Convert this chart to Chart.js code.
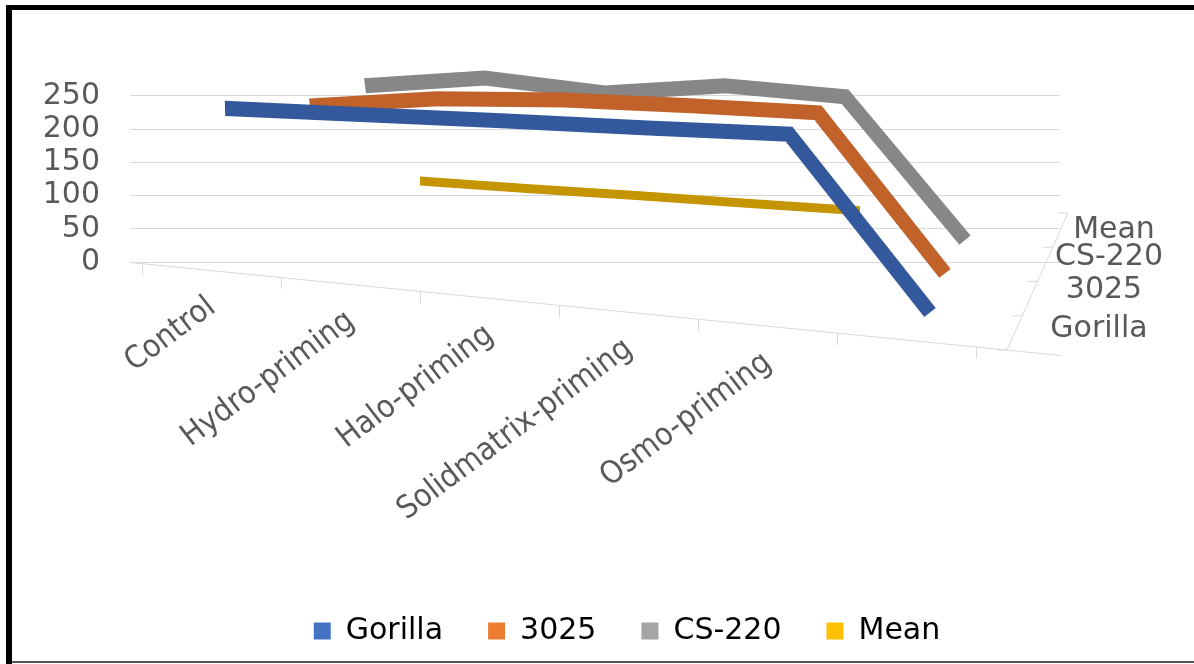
<!DOCTYPE html>
<html>
<head>
<meta charset="utf-8">
<title>Priming treatments</title>
<script src="https://cdn.jsdelivr.net/npm/chart.js@4.4.1/dist/chart.umd.min.js"></script>
<style>
    html, body { margin: 0; padding: 0; background: #fff; overflow: hidden; }
    #wrap { position: relative; width: 1194px; height: 664px; }
    #chart { position: absolute; left: 0; top: 0; }
    .edge { position: absolute; background: #000; }
</style>
</head>
<body>
<div id="wrap">
    <canvas id="chart" width="1194" height="664"></canvas>
    <div class="edge" style="left:6px; top:5px; right:0; height:5px;"></div>
    <div class="edge" style="left:6px; top:5px; width:6px; bottom:0;"></div>
    <div class="edge" style="left:12px; top:661px; right:0; height:2px; background:#555;"></div>
</div>
<script>
    const categories = ['Control', 'Hydro-priming', 'Halo-priming', 'Solidmatrix-priming', 'Osmo-priming', ''];
    const seriesNames = ['Gorilla', '3025', 'CS-220', 'Mean'];
    const gorilla = [224, 229, 234, 238, 243, 9];
    const v3025 = [201, 226, 238, 243, 246, 9];
    const cs220 = [196, 223, 212, 238, 234, 9];
    const mean = [13, 13, 14, 14, 15, null];
    const yTicks = [0, 50, 100, 150, 200, 250];

    const legendColors = ['#4472C4', '#ED7D31', '#A5A5A5', '#FFC000'];
    const ribbonColors = ['#33599C', '#C1622A', '#878787', '#C49500'];
    const textColor = '#595959';
    const textFont = { family: 'DejaVu Sans', size: 30 };

    // fake 3D: each depth row gets its own hidden x/y scale
    const area = { left: 130, right: 1060, top: 20, bottom: 262 };
    const rows = [
        { floor: 263, perUnit: 0.72, start: 225, step: 141, width: 15, labelShift: -2 },
        { floor: 222, perUnit: 0.64, start: 310, step: 127, width: 15, labelShift: 0 },
        { floor: 187, perUnit: 0.60, start: 365, step: 120, width: 15, labelShift: 2 },
        { floor: 168, perUnit: 0.56, start: 420, step: 110, width: 9, labelShift: -7 }
    ];
    const dataSlope = 0.07;
    const floorSlope = 0.1;

    function xRange(start, step) {
        const min = (area.left - start) / step;
        return { min: min, max: min + (area.right - area.left) / step };
    }

    function yRange(floor, perUnit) {
        const min = (floor - area.bottom) / perUnit;
        return { min: min, max: min + (area.bottom - area.top) / perUnit };
    }

    function drawDepthAxis(chart) {
        const ctx = chart.ctx;
        const left = chart.chartArea.left;
        ctx.save();
        ctx.strokeStyle = '#d9d9d9';
        ctx.lineWidth = 1;
        ctx.beginPath();
        ctx.moveTo(1007, 350);
        ctx.lineTo(1068, 213);
        for (let i = 0; i <= seriesNames.length; i++) {
            const f = i / seriesNames.length;
            const x = 1007 + 61 * f;
            const y = 350 - 137 * f;
            ctx.moveTo(x, y);
            ctx.lineTo(x - 10, y);
        }
        ctx.stroke();
        ctx.font = '30px "DejaVu Sans"';
        ctx.fillStyle = textColor;
        ctx.textAlign = 'center';
        ctx.textBaseline = 'middle';
        seriesNames.forEach((name, i) => {
            const x = 1099 + 5 * i;
            const y = chart.scales['y' + i].getPixelForValue(0) + dataSlope * (x - left) + rows[i].labelShift;
            ctx.fillText(name, x, y);
        });
        ctx.restore();
    }

    const skewPlugin = {
        id: 'skew',
        beforeDatasetsDraw(chart) {
            const ctx = chart.ctx;
            ctx.save();
            ctx.transform(1, dataSlope, 0, 1, 0, -dataSlope * chart.chartArea.left);
        },
        afterDatasetsDraw(chart) {
            const ctx = chart.ctx;
            ctx.restore();
            ctx.save();
            ctx.transform(1, floorSlope, 0, 1, 0, -floorSlope * chart.chartArea.left);
        },
        afterDraw(chart) {
            chart.ctx.restore();
            drawDepthAxis(chart);
        }
    };

    function renderChart() {
        const seriesValues = [gorilla, v3025, cs220, mean];

        const scales = {
            xFront: {
                type: 'linear',
                position: 'bottom',
                ...xRange(212, 139),
                afterBuildTicks: (s) => { s.ticks = categories.map((c, i) => ({ value: i })); },
                afterFit: (s) => { s.height = s.chart.height - 8 - s.chart.legend.height - area.bottom; },
                grid: { drawOnChartArea: false, offset: true, tickLength: 12, color: '#d9d9d9', z: 1 },
                border: { color: '#d9d9d9', z: 1 },
                ticks: {
                    autoSkip: false,
                    minRotation: 40,
                    maxRotation: 40,
                    padding: 8,
                    color: textColor,
                    font: textFont,
                    z: 1,
                    callback: (v) => categories[v]
                }
            },
            yFront: {
                type: 'linear',
                position: 'left',
                ...yRange(262, 0.664),
                afterBuildTicks: (s) => { s.ticks = yTicks.map(v => ({ value: v })); },
                afterFit: (s) => { s.width = area.left; },
                grid: { color: '#d9d9d9', drawTicks: true, tickLength: 30, tickColor: 'rgba(0,0,0,0)' },
                border: { display: false },
                ticks: { padding: 0, color: textColor, font: textFont }
            },
            yR: {
                type: 'linear',
                position: 'right',
                afterFit: (s) => { s.width = 194; },
                grid: { display: false },
                border: { display: false },
                ticks: { display: false }
            }
        };

        rows.forEach((r, i) => {
            scales['x' + i] = { type: 'linear', display: false, ...xRange(r.start, r.step) };
            scales['y' + i] = { type: 'linear', display: false, ...yRange(r.floor, r.perUnit) };
        });

        const ctx = document.getElementById('chart').getContext('2d');
        new Chart(ctx, {
            type: 'line',
            data: {
                datasets: seriesNames.map((name, i) => ({
                    label: name,
                    data: seriesValues[i].map((v, j) => ({ x: j, y: v })),
                    xAxisID: 'x' + i,
                    yAxisID: 'y' + i,
                    borderColor: ribbonColors[i],
                    backgroundColor: legendColors[i],
                    borderWidth: rows[i].width,
                    borderJoinStyle: 'miter',
                    borderCapStyle: 'butt',
                    pointRadius: 0,
                    tension: 0,
                    fill: false,
                    clip: false
                }))
            },
            options: {
                responsive: false,
                animation: false,
                devicePixelRatio: 1,
                // negative right padding widens the legend box so it centres like the original
                layout: { padding: { left: 0, right: -60, top: area.top, bottom: 8 } },
                scales: scales,
                plugins: {
                    legend: {
                        position: 'bottom',
                        labels: {
                            boxWidth: 17,
                            boxHeight: 17,
                            padding: 45,
                            color: textColor,
                            font: textFont,
                            generateLabels: (chart) => chart.data.datasets.map((d, i) => ({
                                text: d.label,
                                fillStyle: legendColors[i],
                                strokeStyle: legendColors[i],
                                lineWidth: 0,
                                hidden: false,
                                datasetIndex: i
                            }))
                        }
                    },
                    tooltip: { enabled: false }
                }
            },
            plugins: [skewPlugin]
        });
    }

    document.addEventListener('DOMContentLoaded', function () {
        try {
            renderChart();
        } catch (error) {
            console.error('Error rendering chart:', error);
        }
    });
</script>
</body>
</html>
